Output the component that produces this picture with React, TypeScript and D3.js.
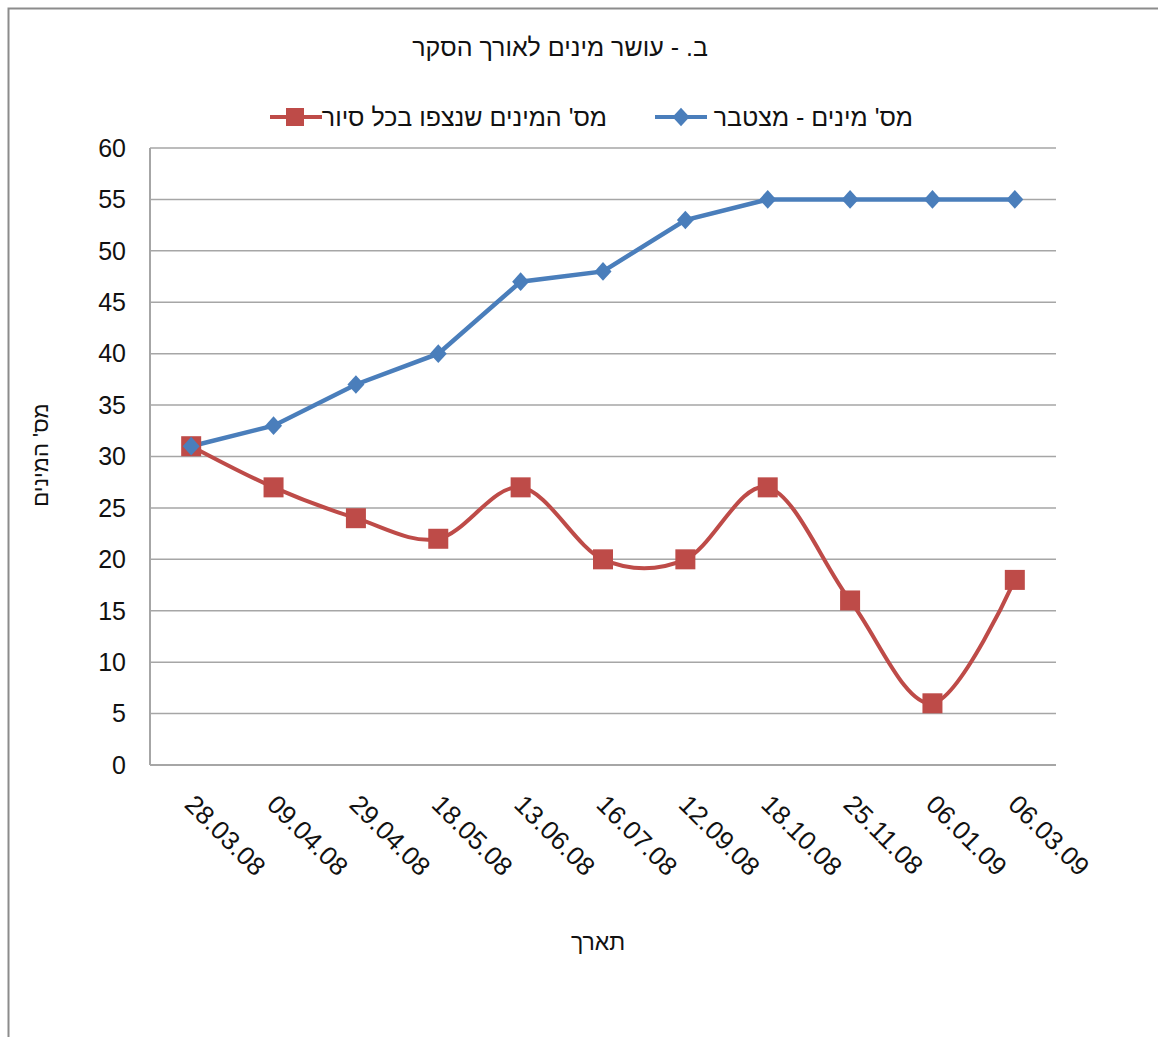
import React from "react";
import * as d3 from "d3";

const dates = ["28.03.08", "09.04.08", "29.04.08", "18.05.08", "13.06.08", "16.07.08", "12.09.08", "18.10.08", "25.11.08", "06.01.09", "06.03.09"];
const cumulative = [31, 33, 37, 40, 47, 48, 53, 55, 55, 55, 55];
const perSurvey = [31, 27, 24, 22, 27, 20, 20, 27, 16, 6, 18];
const yTicks = [0, 5, 10, 15, 20, 25, 30, 35, 40, 45, 50, 55, 60];

const titleText = "ב. - עושר מינים לאורך הסקר";
const legendCumulative = "מס' מינים - מצטבר";
const legendPerSurvey = "מס' המינים שנצפו בכל סיור";
const yTitle = "מס' המינים";
const xTitle = "תארך";

const BLUE = "#4A7EBB";
const RED = "#BE4B48";
const GRID = "#a6a6a6";
const FONT = "'Liberation Sans', Arial, 'DejaVu Sans', sans-serif";

export default function App() {
  const W = 1158, H = 1037;
  const left = 150, right = 1056, top = 148, bottom = 765;
  const x = d3.scaleBand<string>().domain(dates).range([left, right]);
  const cx = (d: string) => (x(d) as number) + x.bandwidth() / 2;
  const y = d3.scaleLinear().domain([0, 60]).range([bottom, top]);

  const blueLine = d3.line<number>().x((_, i) => cx(dates[i])).y((v) => y(v))(cumulative) || "";
  const redLine = d3
    .line<number>()
    .x((_, i) => cx(dates[i]))
    .y((v) => y(v))
    .curve(d3.curveCardinal.tension(0))(perSurvey) || "";

  const diamond = (px: number, py: number, r: number) =>
    `M${px},${py - r * 1.1}L${px + r},${py}L${px},${py + r * 1.1}L${px - r},${py}Z`;

  return (
    <svg width={W} height={H} style={{ position: "absolute", left: 0, top: 0, background: "#fff" }} fontFamily={FONT}>
      <rect x={8.5} y={8.5} width={1300} height={1200} fill="#fff" stroke="#8c8c8c" strokeWidth={2} />
      <text x={560} y={56} fontSize={25} textAnchor="middle" direction="rtl" fill="#111">{titleText}</text>

      {/* legend */}
      <line x1={270} x2={322} y1={117} y2={117} stroke={RED} strokeWidth={4} />
      <rect x={286} y={108} width={18} height={18} fill={RED} />
      <text x={607} y={126} fontSize={25} textAnchor="start" direction="rtl" fill="#111">{legendPerSurvey}</text>
      <line x1={655} x2={707} y1={117} y2={117} stroke={BLUE} strokeWidth={4} />
      <path d={diamond(681, 117, 8.5)} fill={BLUE} />
      <text x={913} y={126} fontSize={25} textAnchor="start" direction="rtl" fill="#111">{legendCumulative}</text>

      {/* grid */}
      {yTicks.map((t) => (
        <g key={t}>
          {t > 0 && <line x1={left} x2={right} y1={y(t)} y2={y(t)} stroke={GRID} strokeWidth={1.5} />}
          <text x={126} y={y(t)} dy="0.35em" fontSize={25} textAnchor="end" fill="#111">{t}</text>
        </g>
      ))}
      <line x1={left} x2={left} y1={top} y2={bottom} stroke={GRID} strokeWidth={2} />
      <line x1={left} x2={right} y1={bottom} y2={bottom} stroke={GRID} strokeWidth={2} />

      {/* x labels */}
      {dates.map((d) => (
        <text key={d} transform={`translate(${cx(d) - 8},${806}) rotate(45)`} fontSize={26} textAnchor="start" fill="#111">{d}</text>
      ))}

      {/* series */}
      <path d={redLine} fill="none" stroke={RED} strokeWidth={4} />
      <path d={blueLine} fill="none" stroke={BLUE} strokeWidth={4.5} />
      {perSurvey.map((v, i) => (
        <rect key={"r" + i} x={cx(dates[i]) - 10} y={y(v) - 10} width={20} height={20} fill={RED} />
      ))}
      {cumulative.map((v, i) => (
        <path key={"b" + i} d={diamond(cx(dates[i]), y(v), 8.5)} fill={BLUE} />
      ))}

      <text transform={`translate(48,455) rotate(-90)`} fontSize={22} textAnchor="middle" direction="rtl" fill="#111">{yTitle}</text>
      <text x={598} y={950} fontSize={23} textAnchor="middle" direction="rtl" fill="#111">{xTitle}</text>
    </svg>
  );
}
